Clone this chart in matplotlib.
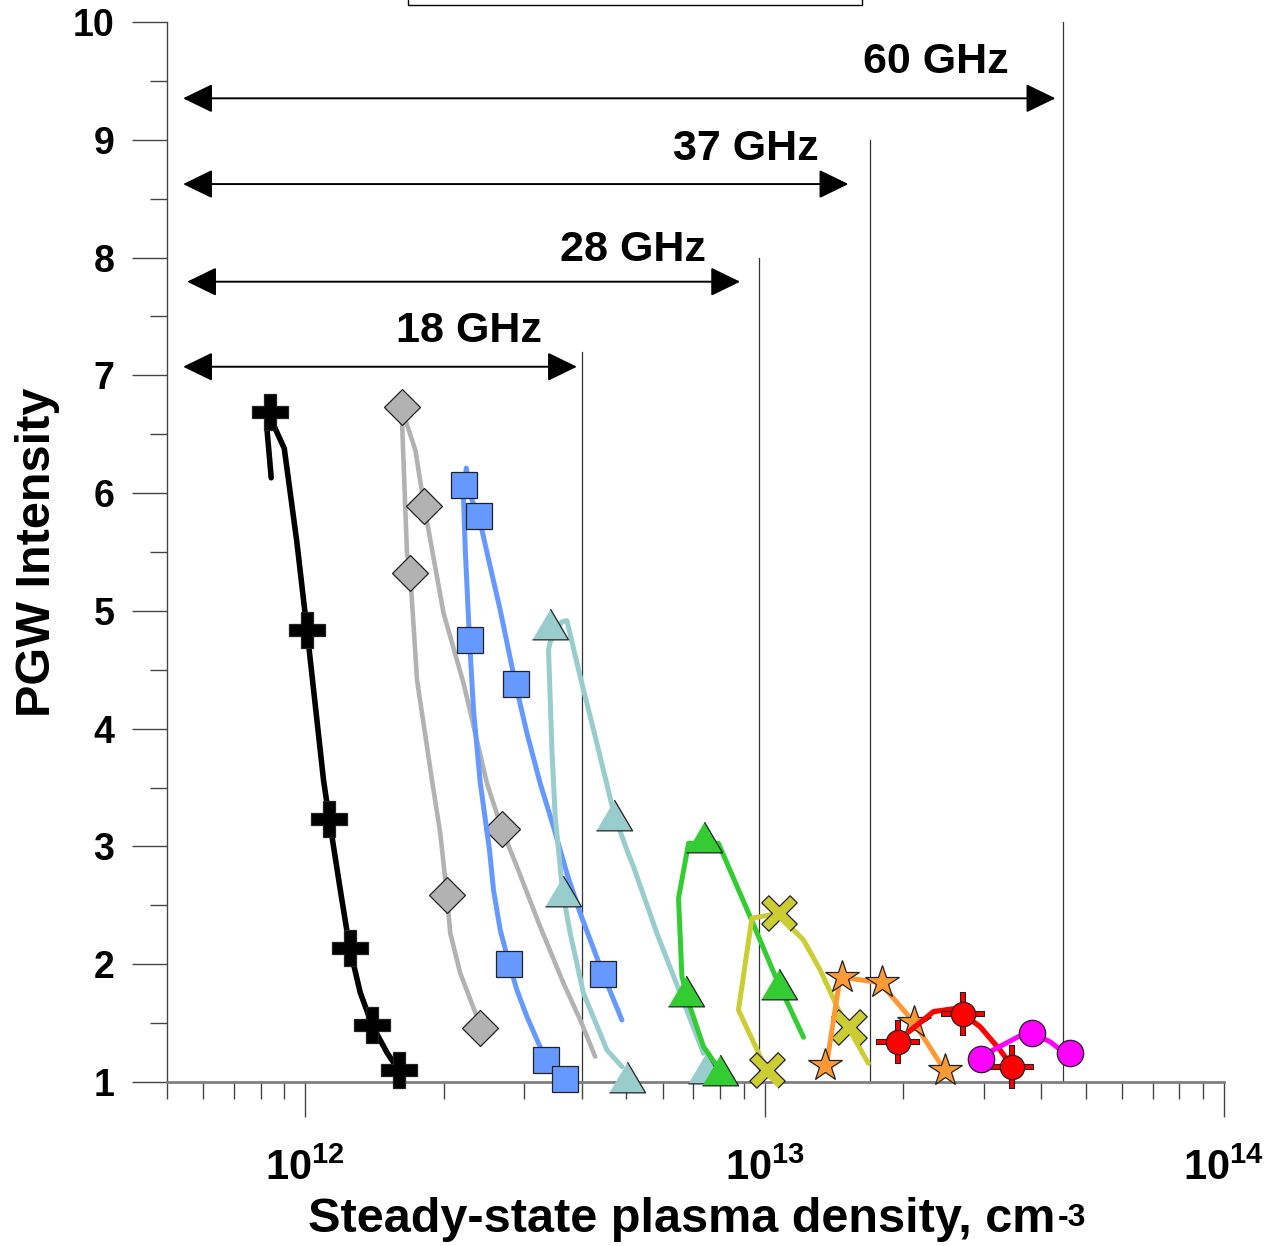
import matplotlib
matplotlib.use("Agg")
import numpy as np
import matplotlib.pyplot as plt
from matplotlib.patches import FancyArrowPatch, Rectangle
from matplotlib.ticker import FixedLocator, NullFormatter, MultipleLocator

plt.rcParams["font.family"] = ["Liberation Sans", "DejaVu Sans"]
plt.rcParams["font.weight"] = "bold"
plt.rcParams["mathtext.fontset"] = "custom"
plt.rcParams["mathtext.rm"] = "Liberation Sans:bold"
plt.rcParams["mathtext.bf"] = "Liberation Sans:bold"
plt.rcParams["mathtext.it"] = "Liberation Sans:bold"
plt.rcParams["mathtext.default"] = "bf"

# --- data (density in cm^-3, PGW intensity) ---
# black crosses
blk_line_x = [8.43e11, 8.25e11, 8.39e11, 9.0e11, 9.59e11, 1.0085e12, 1.096e12, 1.128e12,
              1.192e12, 1.249e12, 1.317e12, 1.399e12, 1.506e12, 1.596e12]
blk_line_y = [6.13, 6.55, 6.64, 6.38, 5.58, 4.84, 3.56, 3.23, 2.63, 2.14, 1.76, 1.48, 1.25, 1.10]
blk_x = [8.39e11, 1.01e12, 1.128e12, 1.249e12, 1.399e12, 1.596e12]
blk_y = [6.69, 4.84, 3.23, 2.14, 1.48, 1.10]

# grey diamonds
gry_line_x = [2.364e12, 2.174e12, 2.068e12, 2.034e12, 1.967e12, 1.887e12, 1.751e12, 1.692e12,
              1.665e12, 1.62e12, 1.736e12, 1.815e12, 2.0e12, 2.211e12, 2.486e12, 2.68e12,
              2.889e12, 3.246e12, 3.649e12, 3.968e12, 4.277e12]
gry_line_y = [1.554, 1.925, 2.265, 2.588, 3.114, 3.564, 4.413, 5.319, 5.491, 6.72, 6.366, 5.89,
              4.98, 4.385, 3.536, 3.146, 2.828, 2.319, 1.838, 1.526, 1.215]
gry_x = [1.623e12, 1.815e12, 1.692e12, 2.68e12, 2.034e12, 2.404e12]
gry_y = [6.728, 5.89, 5.319, 3.146, 2.588, 1.456]

# blue squares
blu_line_x = [3.341e12, 3.219e12, 3.038e12, 2.889e12, 2.78e12, 2.657e12, 2.569e12, 2.518e12,
              2.404e12, 2.324e12, 2.278e12, 2.23e12, 2.211e12, 2.241e12, 2.306e12, 2.383e12,
              2.424e12, 2.527e12, 2.657e12, 2.869e12, 3.038e12, 3.246e12, 3.47e12, 3.711e12,
              3.968e12, 4.452e12, 4.89e12]
blu_line_y = [1.187, 1.329, 1.554, 1.781, 2.0, 2.29, 2.63, 2.97, 3.539, 4.158, 4.753, 5.517,
              5.941, 6.213, 5.941, 5.808, 5.687, 5.375, 5.007, 4.379, 3.961, 3.536, 3.168,
              2.772, 2.432, 1.914, 1.526]
blu_x = [2.211e12, 2.383e12, 2.278e12, 2.869e12, 2.78e12, 4.452e12, 3.341e12, 3.68e12]
blu_y = [6.069, 5.808, 4.753, 4.379, 1.999, 1.914, 1.187, 1.025]

# light teal triangles
tea_line_x = [4.89e12, 4.536e12, 4.034e12, 3.773e12, 3.631e12, 3.558e12, 3.5e12, 3.443e12,
              3.385e12, 3.414e12, 3.62e12, 3.711e12, 3.968e12, 4.313e12, 4.704e12, 5.013e12,
              5.182e12, 5.827e12, 6.55e12, 7.36e12]
tea_line_y = [1.13, 1.272, 1.753, 2.263, 2.622, 2.97, 3.253, 3.819, 4.668, 4.738, 4.908, 4.917,
              4.441, 3.876, 3.271, 2.97, 2.828, 2.263, 1.753, 1.244]
tea_x = [3.414e12, 3.631e12, 4.704e12, 5.028e12, 7.46e12]
tea_y = [4.886, 2.622, 3.271, 1.045, 1.119]

# green triangles
grn_line_x = [7.80e12, 7.36e12, 6.88e12, 6.606e12, 6.494e12, 6.83e12, 7.93e12, 9.30e12,
              1.072e13, 1.215e13]
grn_line_y = [1.159, 1.30, 1.639, 1.894, 2.56, 3.027, 3.027, 2.403, 1.835, 1.38]
grn_x = [7.396e12, 6.74e12, 1.072e13, 8.0e12]
grn_y = [3.083, 1.775, 1.835, 1.102]

# olive crosses
olv_line_x = [1.011e13, 9.78e12, 8.77e12, 9.38e12, 1.072e13, 1.136e13, 1.215e13, 1.321e13,
              1.46e13, 1.682e13]
olv_line_y = [1.102, 1.215, 1.611, 2.39, 2.432, 2.319, 2.206, 1.951, 1.583, 1.159]
olv_x = [1.072e13, 1.527e13, 1.011e13]
olv_y = [2.432, 1.47, 1.102]

# orange stars
org_line_x = [1.366e13, 1.46e13, 1.535e13, 1.784e13, 2.108e13, 2.41e13]
org_line_y = [1.159, 1.894, 1.88, 1.843, 1.512, 1.159]
org_x = [1.472e13, 1.799e13, 2.116e13, 1.354e13, 2.471e13]
org_y = [1.894, 1.852, 1.512, 1.144, 1.102]

# red circles with crosshair
red_line_x = [1.955e13, 2.039e13, 2.33e13, 2.62e13, 2.708e13, 2.944e13, 3.254e13, 3.462e13]
red_line_y = [1.342, 1.413, 1.597, 1.626, 1.575, 1.47, 1.272, 1.13]
red_x = [1.955e13, 2.708e13, 3.462e13]
red_y = [1.342, 1.575, 1.13]

# magenta circles
mag_line_x = [2.954e13, 3.095e13, 3.567e13, 3.815e13, 4.181e13, 4.508e13]
mag_line_y = [1.195, 1.257, 1.385, 1.413, 1.342, 1.244]
mag_x = [2.954e13, 3.815e13, 4.623e13]
mag_y = [1.195, 1.413, 1.244]

# cutoff densities and frequency arrows
cut_names = ["18 GHz", "28 GHz", "37 GHz", "60 GHz"]
cut_x = [4.0e12, 9.7e12, 1.7e13, 4.46e13]
cut_top = [7.2, 8.0, 9.0, 10.0]
arr_y = [7.073, 7.795, 8.624, 9.352]
arr_x0 = [5.42e11, 5.53e11, 5.42e11, 5.42e11]
arr_x1 = [3.903e12, 8.844e12, 1.522e13, 4.295e13]
lab_x = [2.267e12, 5.18e12, 9.10e12, 2.36e13]
lab_y = [7.285, 7.969, 8.828, 9.567]

W, H = 1268, 1246
fig = plt.figure(figsize=(W / 100, H / 100), dpi=100)
ax = fig.add_axes([167 / W, 1 - 1082 / H, (1224 - 167) / W, (1082 - 22) / H])
ax.set_xscale("log")
ax.set_xlim(5e11, 1e14)
ax.set_ylim(1, 10)

for s in ("top", "right"):
    ax.spines[s].set_visible(False)
ax.spines["left"].set_color("#444444")
ax.spines["left"].set_linewidth(1.0)
ax.spines["bottom"].set_color("#808080")
ax.spines["bottom"].set_linewidth(2.0)

ax.xaxis.set_major_locator(FixedLocator([1e12, 1e13, 1e14]))
ax.set_xticklabels([r"$10^{12}$", r"$10^{13}$", r"$10^{14}$"])
minors = [m * 10.0 ** e for e in (11, 12, 13) for m in range(2, 10)]
ax.xaxis.set_minor_locator(FixedLocator([v for v in minors if 5e11 <= v <= 1e14]))
ax.xaxis.set_minor_formatter(NullFormatter())
ax.set_yticks(range(1, 11))
ax.yaxis.set_minor_locator(MultipleLocator(0.5))
ax.tick_params(axis="both", which="major", length=25, width=1, color="#444444", direction="out")
ax.tick_params(axis="both", which="minor", length=12.5, width=1, color="#444444", direction="out")
ax.tick_params(axis="x", which="major", labelsize=30, pad=23)
ax.tick_params(axis="y", which="major", labelsize=27, pad=13)

# cutoff lines
for x, top in zip(cut_x, cut_top):
    ax.plot([x, x], [1, top], color="#333333", lw=0.9, zorder=1, clip_on=False)

# frequency arrows and labels
for name, y, x0, x1, lx, ly in zip(cut_names, arr_y, arr_x0, arr_x1, lab_x, lab_y):
    ax.add_patch(FancyArrowPatch((x0, y), (x1, y), arrowstyle="<|-|>,head_length=18.5,head_width=9",
                                 mutation_scale=1, lw=1.4, color="black", shrinkA=0, shrinkB=0,
                                 zorder=1.5, clip_on=False))
    ax.text(lx, ly, name, fontsize=31, fontweight="bold", ha="center", va="baseline")

# marker shapes
tri = [(-1, -0.85), (1, -0.85), (0, 0.85)]
a = 0.25
plus = np.array([(-a, -1), (a, -1), (a, -a), (1, -a), (1, a), (a, a), (a, 1), (-a, 1),
                 (-a, a), (-1, a), (-1, -a), (-a, -a)])
xmark = [((px - py) / np.sqrt(2), (px + py) / np.sqrt(2)) for px, py in plus]
edge = "#222222"


def series(lx, ly, mx, my, color, marker, ms, fc, z, lw=3.6):
    ax.plot(lx, ly, color=color, lw=lw, solid_capstyle="round", solid_joinstyle="round",
            zorder=z, clip_on=False)
    ax.plot(mx, my, ls="none", marker=marker, ms=ms, mfc=fc, mec=edge, mew=0.9,
            zorder=z + 0.5, clip_on=False)


series(blk_line_x, blk_line_y, blk_x, blk_y, "black", "P", 26, "black", 3, lw=4.0)
series(gry_line_x, gry_line_y, gry_x, gry_y, "#b2b2b2", "D", 18.5, "#b2b2b2", 4, lw=3.3)
series(blu_line_x, blu_line_y, blu_x, blu_y, "#6699ff", "s", 19, "#6699ff", 5)
series(tea_line_x, tea_line_y, tea_x, tea_y, "#99cccc", tri, 26, "#99cccc", 6)
series(grn_line_x, grn_line_y, grn_x, grn_y, "#33cc33", tri, 26, "#33cc33", 7)
series(olv_line_x, olv_line_y, olv_x, olv_y, "#cccc33", xmark, 25.5, "#cccc33", 8)
series(org_line_x, org_line_y, org_x, org_y, "#ff9933", "*", 25, "#ff9933", 9)

# red: crosshair behind a filled circle
ax.plot(red_line_x, red_line_y, color="#ff0000", lw=3.8, solid_capstyle="round", zorder=10, clip_on=False)
ax.plot(red_x, red_y, ls="none", marker="+", ms=31, mew=4.4, color=edge, zorder=10.3, clip_on=False)
ax.plot(red_x, red_y, ls="none", marker="+", ms=30, mew=2.8, color="#ff0000", zorder=10.4, clip_on=False)
ax.plot(red_x, red_y, ls="none", marker="o", ms=17.5, mfc="#ff0000", mec=edge, mew=0.9,
        zorder=10.5, clip_on=False)

series(mag_line_x, mag_line_y, mag_x, mag_y, "#ff00ff", "o", 19, "#ff00ff", 11)

fig.text(38 / W, 1 - 552 / H, "PGW Intensity", fontsize=35, fontweight="bold",
         rotation=90, ha="center", va="center")

# x label with a small, slightly raised "-3"
xl = fig.text(308 / W, 1 - 1232 / H, "Steady-state plasma density, cm", fontsize=35,
              fontweight="bold", ha="left", va="baseline")
fig.canvas.draw()
bb = xl.get_window_extent(fig.canvas.get_renderer())
fig.text((bb.x1 + 2) / W, 1 - 1226 / H, "-3", fontsize=23, fontweight="bold",
         ha="left", va="baseline")

# box cut off at the top edge
fig.patches.append(Rectangle((408 / W, 1 - 5 / H), (862 - 408) / W, 0.05, transform=fig.transFigure,
                             facecolor="white", edgecolor="black", lw=1.0, figure=fig))

fig.savefig("out.png", dpi=100)
